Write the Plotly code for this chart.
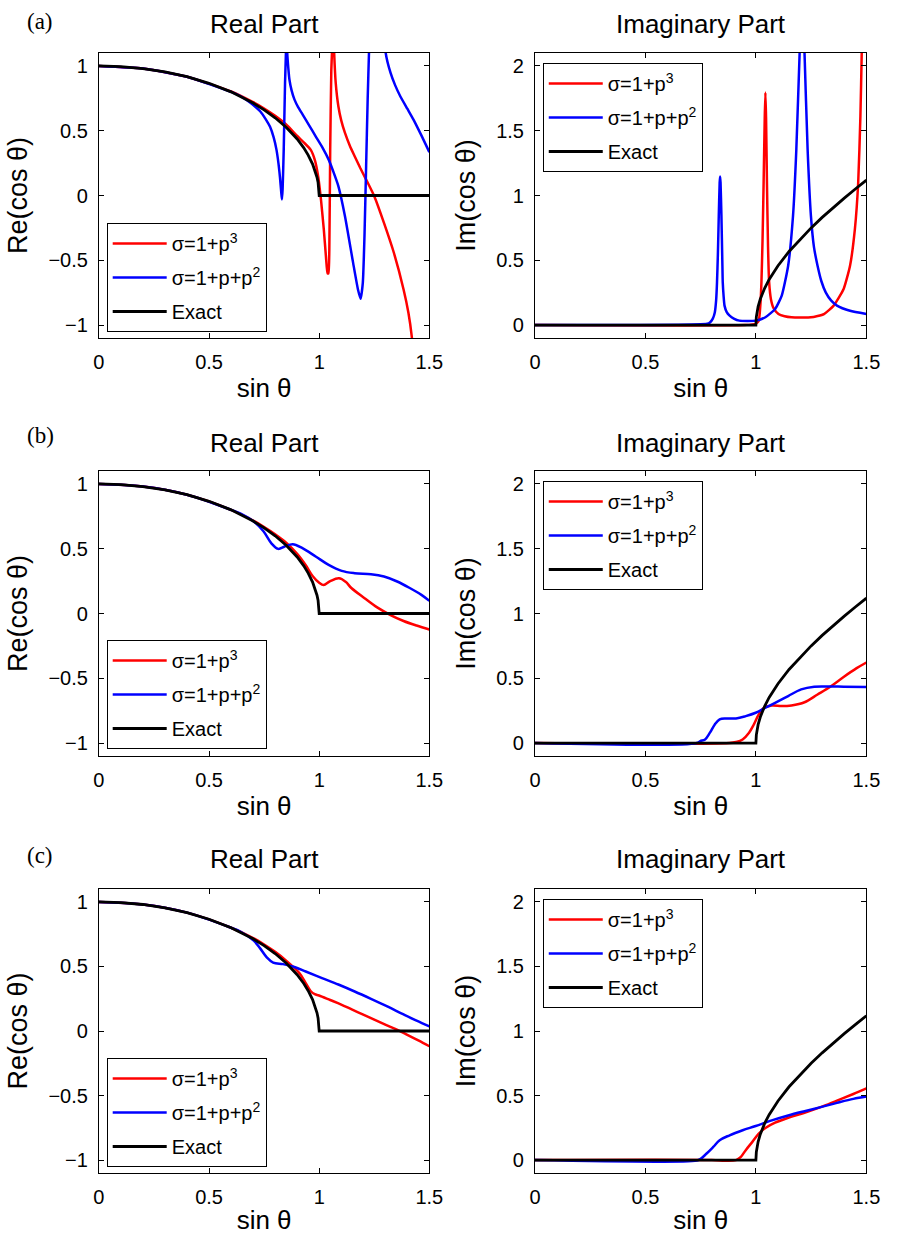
import plotly.graph_objects as go

W, H = 897, 1235

# ---------------- data ----------------
# exact curve (same in all three rows)
exact_re_x = [0, 0.1, 0.2, 0.3, 0.4, 0.5, 0.6, 0.65, 0.7, 0.75, 0.8, 0.85, 0.9, 0.93, 0.95, 0.97, 0.98, 0.99, 0.995, 0.999, 1.0, 1.5]
exact_re_y = [1.0, 0.995, 0.980, 0.954, 0.917, 0.866, 0.800, 0.760, 0.714, 0.661, 0.600, 0.527, 0.436, 0.368, 0.312, 0.243, 0.199, 0.141, 0.100, 0.045, 0.0, 0.0]
exact_im_x = [0, 1.0, 1.002, 1.005, 1.01, 1.02, 1.04, 1.06, 1.08, 1.1, 1.15, 1.2, 1.25, 1.3, 1.35, 1.4, 1.45, 1.5]
exact_im_y = [0, 0, 0.063, 0.100, 0.142, 0.201, 0.286, 0.352, 0.408, 0.458, 0.568, 0.663, 0.750, 0.831, 0.907, 0.980, 1.050, 1.118]

# row (a)
a_re_red_x = [0, 0.2, 0.4, 0.6, 0.7, 0.75, 0.8, 0.85, 0.9, 0.93, 0.961, 0.981, 0.996, 1.008, 1.021, 1.031, 1.038, 1.042, 1.046, 1.050, 1.055, 1.058, 1.063, 1.068, 1.075, 1.087, 1.100, 1.117, 1.140, 1.161, 1.187, 1.213, 1.250, 1.294, 1.339, 1.383, 1.405, 1.420, 1.44]
a_re_red_y = [1.0, 0.98, 0.917, 0.803, 0.72, 0.672, 0.615, 0.548, 0.46, 0.41, 0.354, 0.27, 0.14, -0.03, -0.263, -0.48, -0.6, -0.6, -0.417, 0.354, 0.97, 1.1, 1.4, 1.1, 0.869, 0.689, 0.58, 0.483, 0.38, 0.303, 0.21, 0.123, -0.005, -0.211, -0.442, -0.725, -0.905, -1.085, -1.5]
a_re_blue_x = [0, 0.2, 0.4, 0.6, 0.6435, 0.68, 0.71, 0.732, 0.757, 0.777, 0.793, 0.806, 0.815, 0.822, 0.828, 0.831, 0.834, 0.839, 0.845, 0.849, 0.852, 0.855, 0.860, 0.865, 0.875, 0.888, 0.905, 0.925, 0.955, 0.984, 1.015, 1.043, 1.065, 1.087, 1.117, 1.154, 1.176, 1.188, 1.198, 1.206, 1.213, 1.220, 1.226, 1.26, 1.302, 1.324, 1.345, 1.368, 1.40, 1.428, 1.465, 1.5]
a_re_blue_y = [1.0, 0.98, 0.917, 0.80, 0.766, 0.725, 0.685, 0.65, 0.59, 0.53, 0.45, 0.354, 0.25, 0.14, 0.02, -0.03, 0.05, 0.354, 0.869, 1.1, 1.3, 1.1, 0.98, 0.894, 0.81, 0.74, 0.68, 0.625, 0.54, 0.457, 0.37, 0.277, 0.18, 0.072, -0.16, -0.52, -0.725, -0.797, -0.674, -0.288, 0.226, 0.74, 1.1, 3.0, 1.1, 0.946, 0.85, 0.766, 0.67, 0.586, 0.46, 0.335]
a_im_red_x = [0, 0.95, 1.0, 1.013, 1.02, 1.025, 1.030, 1.035, 1.040, 1.043, 1.046, 1.050, 1.055, 1.060, 1.068, 1.080, 1.102, 1.13, 1.161, 1.249, 1.308, 1.352, 1.397, 1.426, 1.448, 1.463, 1.473, 1.479, 1.49]
a_im_red_y = [0, 0.0, 0.01, 0.034, 0.15, 0.329, 0.65, 1.1, 1.6, 1.795, 1.6, 1.1, 0.6, 0.329, 0.2, 0.13, 0.085, 0.068, 0.06, 0.06, 0.085, 0.15, 0.278, 0.458, 0.74, 1.1, 1.615, 2.103, 3.0]
a_im_blue_x = [0, 0.78, 0.792, 0.805, 0.814, 0.82, 0.824, 0.828, 0.832, 0.836, 0.838, 0.840, 0.844, 0.848, 0.850, 0.854, 0.858, 0.868, 0.881, 0.90, 0.925, 0.999, 1.043, 1.087, 1.117, 1.146, 1.168, 1.183, 1.198, 1.21, 1.22, 1.234, 1.249, 1.263, 1.279, 1.296, 1.316, 1.34, 1.367, 1.426, 1.5]
a_im_blue_y = [0, 0.01, 0.02, 0.05, 0.097, 0.19, 0.329, 0.55, 0.843, 1.1, 1.147, 1.1, 0.843, 0.5, 0.329, 0.22, 0.15, 0.1, 0.073, 0.05, 0.034, 0.034, 0.06, 0.124, 0.227, 0.458, 0.843, 1.357, 2.103, 2.6, 2.103, 1.357, 0.843, 0.6, 0.458, 0.34, 0.252, 0.19, 0.15, 0.11, 0.085]

# row (b)
b_re_red_x = [0, 0.2, 0.4, 0.6, 0.7, 0.75, 0.8, 0.85, 0.9, 0.94, 0.97, 1.0, 1.02, 1.05, 1.09, 1.12, 1.146, 1.206, 1.265, 1.324, 1.383, 1.442, 1.5]
b_re_red_y = [1.0, 0.98, 0.917, 0.80, 0.718, 0.668, 0.612, 0.547, 0.46, 0.37, 0.29, 0.238, 0.22, 0.25, 0.272, 0.245, 0.197, 0.118, 0.045, -0.012, -0.058, -0.093, -0.123]
b_re_blue_x = [0, 0.2, 0.4, 0.6, 0.6435, 0.703, 0.747, 0.784, 0.814, 0.843, 0.880, 0.924, 0.984, 1.043, 1.102, 1.161, 1.235, 1.294, 1.354, 1.413, 1.464, 1.5]
b_re_blue_y = [1.0, 0.98, 0.917, 0.80, 0.771, 0.71, 0.635, 0.54, 0.499, 0.517, 0.535, 0.504, 0.44, 0.375, 0.329, 0.311, 0.303, 0.285, 0.247, 0.195, 0.144, 0.098]
b_im_red_x = [0, 0.88, 0.91, 0.94, 0.969, 0.991, 1.013, 1.035, 1.072, 1.117, 1.161, 1.220, 1.279, 1.338, 1.397, 1.456, 1.5]
b_im_red_y = [0, 0, 0.008, 0.028, 0.08, 0.144, 0.221, 0.27, 0.29, 0.285, 0.29, 0.315, 0.375, 0.437, 0.51, 0.578, 0.622]
b_im_blue_x = [0, 0.733, 0.748, 0.77, 0.792, 0.814, 0.836, 0.866, 0.910, 0.954, 0.999, 1.043, 1.087, 1.146, 1.205, 1.264, 1.323, 1.397, 1.5]
b_im_blue_y = [0, 0, 0.015, 0.028, 0.08, 0.144, 0.183, 0.19, 0.19, 0.208, 0.234, 0.273, 0.311, 0.363, 0.414, 0.435, 0.437, 0.435, 0.432]

# row (c)
c_re_red_x = [0, 0.2, 0.4, 0.6, 0.7, 0.75, 0.8, 0.85, 0.91, 0.939, 0.961, 0.98, 0.999, 1.05, 1.10, 1.15, 1.20, 1.25, 1.30, 1.35, 1.40, 1.45, 1.5]
c_re_red_y = [1.0, 0.98, 0.917, 0.80, 0.72, 0.67, 0.613, 0.545, 0.448, 0.371, 0.31, 0.285, 0.275, 0.24, 0.205, 0.165, 0.127, 0.088, 0.05, 0.012, -0.03, -0.073, -0.118]
c_re_blue_x = [0, 0.2, 0.4, 0.6, 0.6435, 0.703, 0.732, 0.762, 0.791, 0.836, 0.880, 0.939, 1.013, 1.087, 1.161, 1.235, 1.309, 1.383, 1.442, 1.5]
c_re_blue_y = [1.0, 0.98, 0.917, 0.80, 0.769, 0.70, 0.64, 0.57, 0.53, 0.518, 0.50, 0.461, 0.41, 0.36, 0.306, 0.249, 0.19, 0.128, 0.08, 0.036]
c_im_red_x = [0, 0.8, 0.86, 0.91, 0.932, 0.954, 0.984, 1.013, 1.043, 1.087, 1.146, 1.220, 1.293, 1.367, 1.441, 1.5]
c_im_red_y = [0, 0, -0.005, 0.0, 0.025, 0.077, 0.141, 0.205, 0.249, 0.29, 0.328, 0.367, 0.41, 0.461, 0.512, 0.555]
c_im_blue_x = [0, 0.733, 0.748, 0.777, 0.807, 0.836, 0.881, 0.94, 0.999, 1.072, 1.146, 1.220, 1.293, 1.367, 1.441, 1.5]
c_im_blue_y = [0, -0.003, 0.007, 0.051, 0.102, 0.154, 0.192, 0.231, 0.264, 0.308, 0.346, 0.379, 0.41, 0.443, 0.474, 0.492]

names = ["σ=1+p<sup>3</sup>", "σ=1+p+p<sup>2</sup>", "Exact"]
row_labels = ["(a)", "(b)", "(c)"]
titles = ["Real Part", "Imaginary Part"]
x_ticks = [0, 0.5, 1, 1.5]
x_ticktext = ["0", "0.5", "1", "1.5"]
re_ticks = [-1, -0.5, 0, 0.5, 1]
re_ticktext = ["\u22121", "\u22120.5", "0", "0.5", "1"]
im_ticks = [0, 0.5, 1, 1.5, 2]
im_ticktext = ["0", "0.5", "1", "1.5", "2"]

panels = [
    (a_re_red_x, a_re_red_y, a_re_blue_x, a_re_blue_y, "re", 0.5),
    (a_im_red_x, a_im_red_y, a_im_blue_x, a_im_blue_y, "im", 0.5),
    (b_re_red_x, b_re_red_y, b_re_blue_x, b_re_blue_y, "re", 1.0),
    (b_im_red_x, b_im_red_y, b_im_blue_x, b_im_blue_y, "im", 1.0),
    (c_re_red_x, c_re_red_y, c_re_blue_x, c_re_blue_y, "re", 1.0),
    (c_im_red_x, c_im_red_y, c_im_blue_x, c_im_blue_y, "im", 1.0),
]

# ---------------- layout geometry (pixels) ----------------
col_x = [(95, 433), (541, 880)]
row_y = [(53, 338), (471, 756), (889, 1173)]
title_y = [24, 443, 859]
label_y = [21, 435, 855]
legend_tl = {  # (x, y) top-left corner in px
    (0, 0): (103, 223), (0, 1): (549, 63),
    (1, 0): (103, 640), (1, 1): (549, 481),
    (2, 0): (103, 1058), (2, 1): (549, 899),
}

FONT = "Liberation Sans, Arial, sans-serif"
RED, BLUE, BLACK = "#ff0000", "#0000ff", "#000000"

fig = go.Figure()
layout = dict(
    width=W, height=H, margin=dict(l=0, r=0, t=0, b=0),
    paper_bgcolor="white", plot_bgcolor="white",
    font=dict(family=FONT, color="black", size=20),
    annotations=[], showlegend=True,
)

for i, (rx, ry, bx, by, kind, smooth) in enumerate(panels):
    r, c = divmod(i, 2)
    n = i + 1
    xa = "x" if n == 1 else f"x{n}"
    ya = "y" if n == 1 else f"y{n}"
    leg = "legend" if n == 1 else f"legend{n}"
    ex_x, ex_y = (exact_re_x, exact_re_y) if kind == "re" else (exact_im_x, exact_im_y)
    for k, (xx, yy, col, wdt) in enumerate([(rx, ry, RED, 2.5), (bx, by, BLUE, 2.5), (ex_x, ex_y, BLACK, 2.8)]):
        ls = dict(color=col, width=wdt)
        if k < 2:
            ls.update(shape="spline", smoothing=smooth)
        fig.add_trace(go.Scatter(x=xx, y=yy, mode="lines", line=ls, name=names[k],
                                 xaxis=xa, yaxis=ya, legend=leg, legendgroup=f"g{n}_{k}",
                                 hoverinfo="skip"))
    x0, x1 = col_x[c]
    y0, y1 = row_y[r]
    axis_common = dict(showline=True, linecolor="black", linewidth=1, mirror="ticks",
                       ticks="inside", ticklen=5, tickcolor="black", tickwidth=1,
                       showgrid=False, zeroline=False, tickfont=dict(size=20, family=FONT))
    layout["xaxis" if n == 1 else f"xaxis{n}"] = dict(
        axis_common, domain=[x0 / W, x1 / W], anchor=ya, range=[0, 1.5],
        tickvals=x_ticks, ticktext=x_ticktext, ticklabelstandoff=6,
        title=dict(text="sin θ", font=dict(size=26, family=FONT), standoff=6),
    )
    if kind == "re":
        yr, tv, tt, yt = [-1.1, 1.1], re_ticks, re_ticktext, "Re(cos θ)"
    else:
        yr, tv, tt, yt = [-0.1, 2.1], im_ticks, im_ticktext, "Im(cos θ)"
    layout["yaxis" if n == 1 else f"yaxis{n}"] = dict(
        axis_common, domain=[1 - y1 / H, 1 - y0 / H], anchor=xa, range=yr,
        tickvals=tv, ticktext=tt, ticklabelstandoff=6,
        title=dict(text=yt, font=dict(size=27, family=FONT), standoff=12),
    )
    lx, ly = legend_tl[(r, c)]
    layout[leg] = dict(
        x=lx / W, y=1 - ly / H, xanchor="left", yanchor="top",
        bgcolor="white", bordercolor="black", borderwidth=1,
        font=dict(size=20, family=FONT, color="black"), tracegroupgap=5,
        itemwidth=54,
    )
    layout["annotations"].append(dict(
        text=titles[c], x=(x0 + x1) / 2 / W, y=1 - title_y[r] / H, xref="paper", yref="paper",
        xanchor="center", yanchor="middle", showarrow=False, font=dict(size=26, family=FONT)))
    if c == 0:
        layout["annotations"].append(dict(
            text=row_labels[r], x=35 / W, y=1 - label_y[r] / H, xref="paper", yref="paper",
            xanchor="center", yanchor="middle", showarrow=False,
            font=dict(size=23, family="Liberation Serif, Times New Roman, serif")))

fig.update_layout(**layout)
fig.write_html("out.html")
